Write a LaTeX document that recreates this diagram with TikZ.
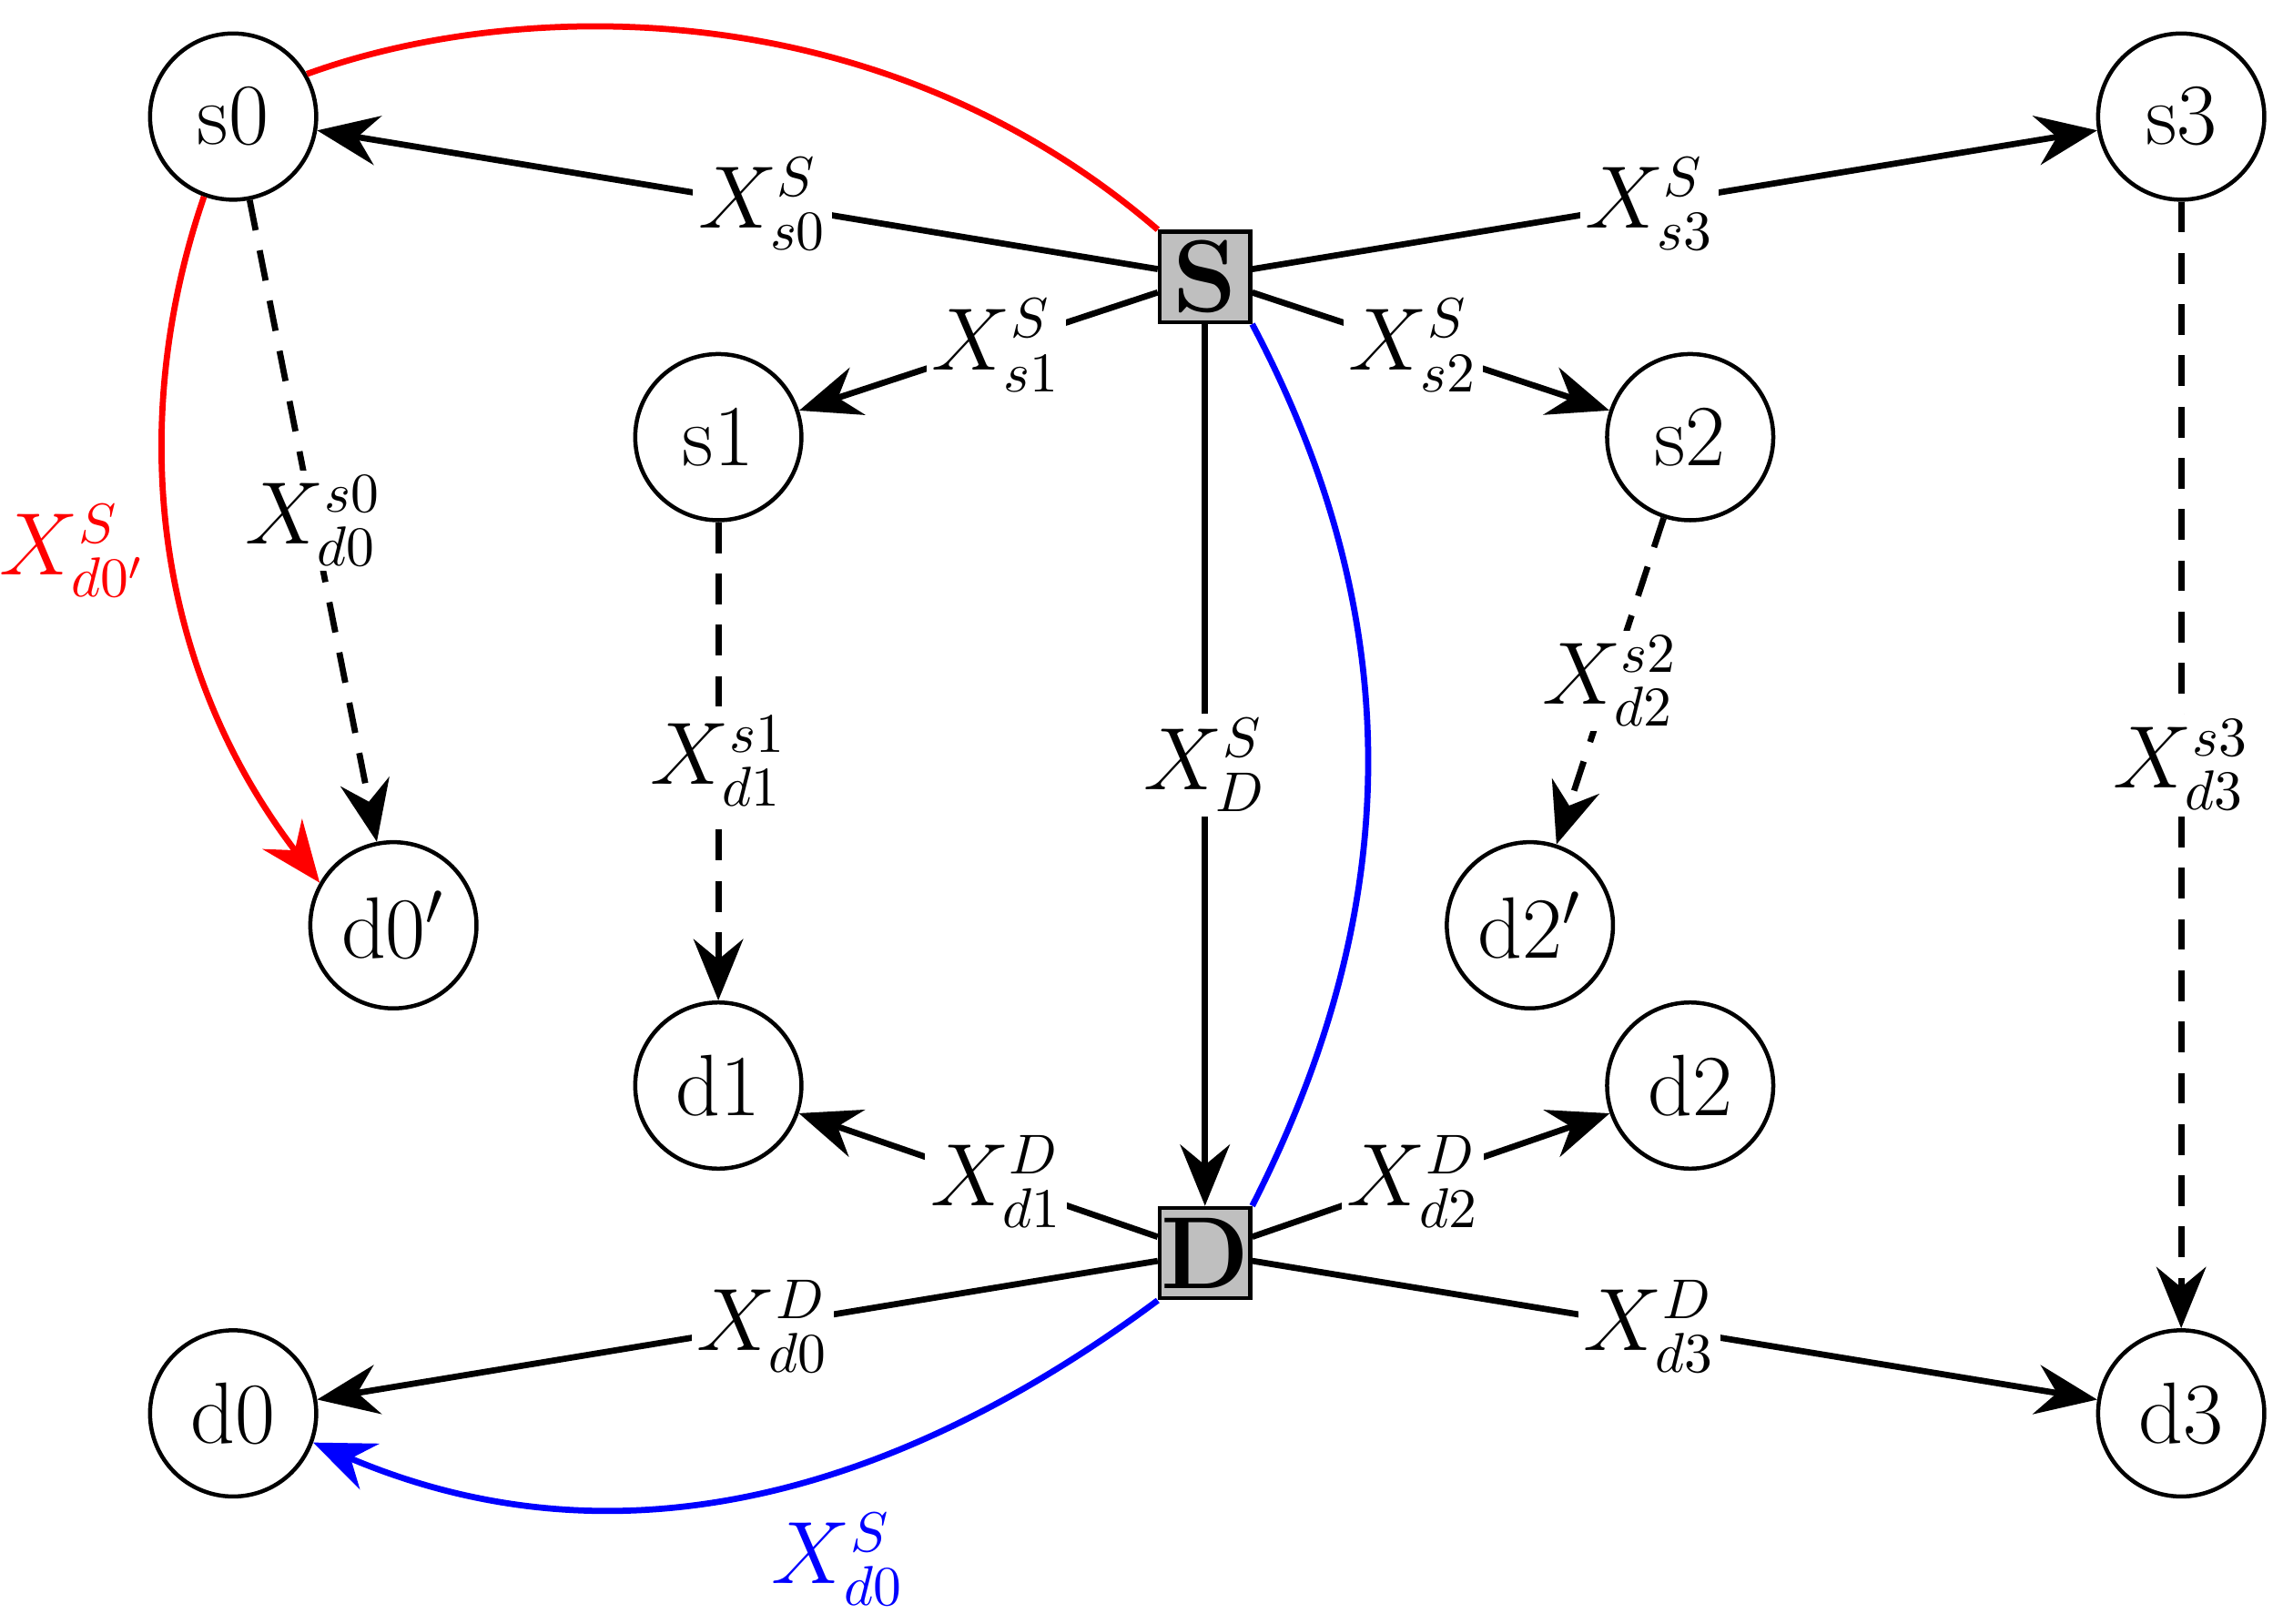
\documentclass[tikz,border=0pt]{standalone}
\usetikzlibrary{arrows.meta}
\begin{document}
\begin{tikzpicture}[x=0.01cm,y=-0.01cm,
  every node/.style={font=\fontsize{16}{18}\selectfont},
  st/.style={circle,draw,line width=0.8pt,minimum size=1.14cm,inner sep=0pt,font=\fontsize{17}{19}\selectfont},
  hub/.style={rectangle,draw,fill=gray!50,line width=0.8pt,minimum size=0.62cm,inner sep=0pt,font=\fontsize{20}{22}\selectfont\bfseries},
  ed/.style={line width=1.2pt,-{Stealth[length=4.2mm,width=3.4mm,inset=1.4mm]}},
  dsh/.style={ed,dashed,dash pattern=on 6pt off 4pt},
  lb/.style={fill=white,inner sep=1pt}]
\useasboundingbox (0,0) rectangle (1560,1114);
\node[st] (s0) at (160,80) {s0};
\node[st] (s3) at (1497,80) {s3};
\node[st] (s1) at (493,300) {s1};
\node[st] (s2) at (1160,300) {s2};
\node[st] (d0p) at (270,635) {d0$'$};
\node[st] (d2p) at (1050,635) {d2$'$};
\node[st] (d1) at (493,745) {d1};
\node[st] (d2) at (1160,745) {d2};
\node[st] (d0) at (160,970) {d0};
\node[st] (d3) at (1497,970) {d3};
\node[hub] (S) at (827,190) {S};
\node[hub] (D) at (827,860) {D};
\draw[ed] (S) -- node[lb,pos=0.47]{$X^S_{s0}$} (s0);
\draw[ed] (S) -- node[lb,pos=0.47]{$X^S_{s3}$} (s3);
\draw[ed] (S) -- node[lb,pos=0.45]{$X^S_{s1}$} (s1);
\draw[ed] (S) -- node[lb,pos=0.45]{$X^S_{s2}$} (s2);
\draw[ed] (S) -- node[lb]{$X^S_{D}$} (D);
\draw[ed] (D) -- node[lb,pos=0.45]{$X^D_{d1}$} (d1);
\draw[ed] (D) -- node[lb,pos=0.45]{$X^D_{d2}$} (d2);
\draw[ed] (D) -- node[lb,pos=0.47]{$X^D_{d0}$} (d0);
\draw[ed] (D) -- node[lb,pos=0.47]{$X^D_{d3}$} (d3);
\draw[dsh] (s0) -- node[lb,pos=0.5]{$X^{s0}_{d0}$} (d0p);
\draw[dsh] (s1) -- node[lb]{$X^{s1}_{d1}$} (d1);
\draw[dsh] (s2) -- node[lb]{$X^{s2}_{d2}$} (d2p);
\draw[dsh] (s3) -- node[lb]{$X^{s3}_{d3}$} (d3);
\draw[red,line width=1.2pt] (S.north west) .. controls (600,-10) and (350,0) .. (s0.30);
\draw[red,ed] (s0.250) .. controls (90,280) and (100,450) .. (d0p.150);
\node[red] (lr) at (50,378) {$X^S_{d0'}$};
\draw[blue,line width=1.2pt] (S.south east) .. controls (980,450) and (950,650) .. (D.north east);
\draw[blue,ed] (D.south west) .. controls (650,1000) and (450,1090) .. (d0.-20);
\node[blue] (lbz) at (575,1070) {$X^S_{d0}$};
\end{tikzpicture}
\end{document}
